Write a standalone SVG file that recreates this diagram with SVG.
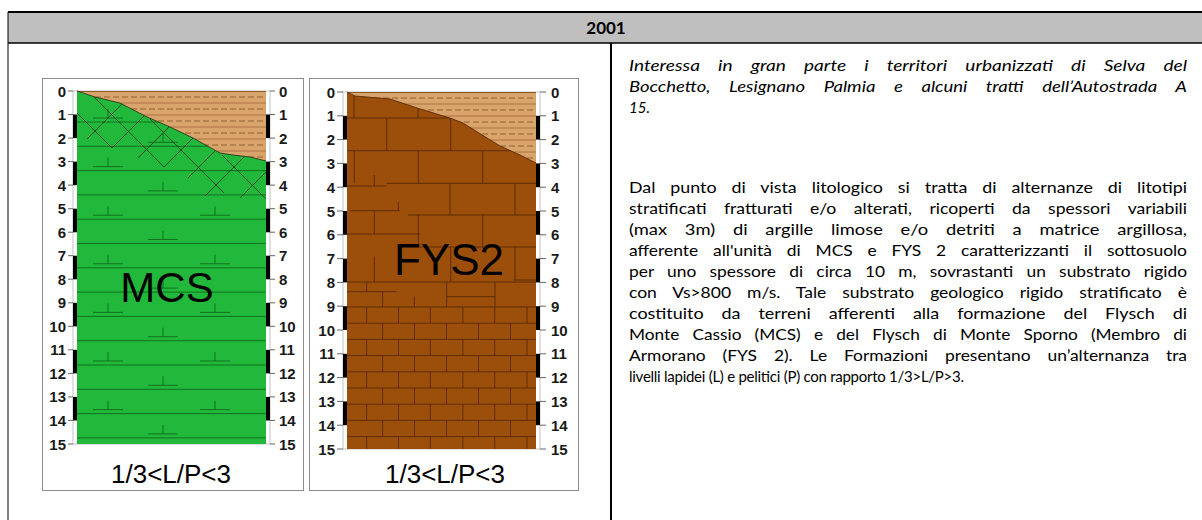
<svg xmlns="http://www.w3.org/2000/svg" xmlns:xlink="http://www.w3.org/1999/xlink" width="1202" height="520" viewBox="0 0 1202 520">
  <style>
    .frame { fill: #ffffff; stroke: #8c8c8c; stroke-width: 1; }
    .col { fill: #ffffff; stroke: #b4b4b4; stroke-width: 0.8; }
    .num { font-family: "Liberation Sans", Arial, sans-serif; font-size: 15px; font-weight: bold; fill: #1a1a1a; }
    .big { font-family: "Liberation Sans", Arial, sans-serif; fill: #000000; }
    .body { font-family: Lato, "Liberation Sans", sans-serif; font-size: 15px; fill: #000000; }
    .tick { stroke: #666666; stroke-width: 1; fill: none; }
    .bar { fill: #000000; }
    .gl { stroke: #0e6b1c; stroke-width: 0.9; fill: none; }
    .hatch { stroke: #123d14; stroke-width: 0.9; fill: none; }
    .soil { fill: #d9a46c; }
    .sl { stroke: #a8703c; stroke-width: 0.9; fill: none; }
    .sd { stroke: #8a5a2a; stroke-width: 0.9; stroke-dasharray: 6 3; fill: none; }
    .br { stroke: #5a2800; stroke-width: 0.9; fill: none; }
    .edge { fill: none; stroke-width: 0.9; }
  </style>
  <defs>
    <!-- bedding symbol: short stem on a horizontal base -->
    <path id="bed" d="M-15,0 H15 M0,0 V-9"/>
    <clipPath id="soilA">
      <polygon points="77,91 95,97 120,103 147,117 170,127 193,138 220,153 233,155 250,157 266,161 266,91"/>
    </clipPath>
    <clipPath id="soilB">
      <polygon points="347,92 355,96 390,99 417,108 450,118 463,123 487,138 500,146 520,155 536,163 536,92"/>
    </clipPath>
  </defs>

  <rect width="1202" height="520" fill="#ffffff"/>

  <!-- table header and cell borders -->
  <g id="table">
    <rect x="8" y="12" width="1194" height="31" fill="#bfbfbf"/>
    <line x1="8" y1="12" x2="1202" y2="12" stroke="#000" stroke-width="2"/>
    <line x1="8" y1="43" x2="1202" y2="43" stroke="#000" stroke-width="1.5"/>
    <line x1="8" y1="12" x2="8" y2="520" stroke="#000" stroke-width="1"/>
    <line x1="611" y1="43" x2="611" y2="520" stroke="#000" stroke-width="2"/>
    <text x="606" y="33.5" text-anchor="middle" font-family="Lato, 'Liberation Sans', sans-serif" font-size="17" font-weight="bold">2001</text>
  </g>

  <!-- MCS log -->
  <g id="log-mcs">
    <rect class="frame" x="42.5" y="78.5" width="261" height="412"/>
    <rect class="col" x="73" y="91" width="197" height="353"/>
    <rect x="77" y="91" width="189" height="353" fill="#21b83b"/>
    <path class="gl" d="M77,122 H266 M77,146.3 H266 M77,170.6 H266 M77,194.9 H266 M77,219.2 H266 M77,243.5 H266 M77,267.8 H266 M77,292.1 H266 M77,316.4 H266 M77,340.7 H266 M77,365 H266 M77,389.3 H266 M77,413.6 H266 M77,437.9 H266"/>
    <g class="gl">
      <use xlink:href="#bed" x="108" y="118"/>
      <use xlink:href="#bed" x="163" y="142.3"/>
      <use xlink:href="#bed" x="108" y="166.6"/>
      <use xlink:href="#bed" x="163" y="190.9"/>
      <use xlink:href="#bed" x="108" y="215.2"/>
      <use xlink:href="#bed" x="215" y="215.2"/>
      <use xlink:href="#bed" x="163" y="239.5"/>
      <use xlink:href="#bed" x="108" y="263.8"/>
      <use xlink:href="#bed" x="215" y="263.8"/>
      <use xlink:href="#bed" x="163" y="288.1"/>
      <use xlink:href="#bed" x="108" y="312.4"/>
      <use xlink:href="#bed" x="215" y="312.4"/>
      <use xlink:href="#bed" x="163" y="336.7"/>
      <use xlink:href="#bed" x="108" y="361"/>
      <use xlink:href="#bed" x="215" y="361"/>
      <use xlink:href="#bed" x="163" y="385.3"/>
      <use xlink:href="#bed" x="108" y="409.6"/>
      <use xlink:href="#bed" x="215" y="409.6"/>
      <use xlink:href="#bed" x="163" y="433.9"/>
    </g>
    <!-- weathered band cross-hatching -->
    <path class="hatch" d="M77,113 L112,148 M94,97 L164,167 M150,119 L224,193 M222,155 L266,199 M87,139 L122,104 M112,148 L145,115 M138,158 L170,126 M164,167 L193,138 M188,178 L215,151 M205,196 L246,155 M240,198 L266,172"/>
    <!-- cover soil -->
    <polygon class="soil" points="77,91 95,97 120,103 147,117 170,127 193,138 220,153 233,155 250,157 266,161 266,91"/>
    <g clip-path="url(#soilA)">
      <path class="sd" d="M77,97 H266 M77,109 H266 M77,121 H266 M77,133 H266 M77,145 H266 M77,157 H266"/>
      <path class="sl" d="M77,103 H266 M77,115 H266 M77,127 H266 M77,139 H266 M77,151 H266"/>
    </g>
    <line x1="77" y1="91.5" x2="266" y2="91.5" stroke="#8a5a2a" stroke-width="1.2"/>
    <polyline class="edge" stroke="#2c3a14" points="77,91 95,97 120,103 147,117 170,127 193,138 220,153 233,155 250,157 266,161"/>
    <!-- depth bars -->
    <g class="bar">
      <rect x="73" y="114.5" width="4" height="23.6"/>
      <rect x="73" y="161.6" width="4" height="23.6"/>
      <rect x="73" y="208.7" width="4" height="23.6"/>
      <rect x="73" y="255.7" width="4" height="23.6"/>
      <rect x="73" y="302.8" width="4" height="23.6"/>
      <rect x="73" y="349.8" width="4" height="23.6"/>
      <rect x="73" y="396.9" width="4" height="23.6"/>
      <rect x="266" y="114.5" width="4" height="23.6"/>
      <rect x="266" y="161.6" width="4" height="23.6"/>
      <rect x="266" y="208.7" width="4" height="23.6"/>
      <rect x="266" y="255.7" width="4" height="23.6"/>
      <rect x="266" y="302.8" width="4" height="23.6"/>
      <rect x="266" y="349.8" width="4" height="23.6"/>
      <rect x="266" y="396.9" width="4" height="23.6"/>
    </g>
    <path class="tick" d="M68,91 h5 M68,114.5 h5 M68,138.1 h5 M68,161.6 h5 M68,185.1 h5 M68,208.7 h5 M68,232.2 h5 M68,255.7 h5 M68,279.2 h5 M68,302.8 h5 M68,326.3 h5 M68,349.8 h5 M68,373.4 h5 M68,396.9 h5 M68,420.4 h5 M68,444 h5 M270,91 h5 M270,114.5 h5 M270,138.1 h5 M270,161.6 h5 M270,185.1 h5 M270,208.7 h5 M270,232.2 h5 M270,255.7 h5 M270,279.2 h5 M270,302.8 h5 M270,326.3 h5 M270,349.8 h5 M270,373.4 h5 M270,396.9 h5 M270,420.4 h5 M270,444 h5"/>
    <g class="num" text-anchor="end">
      <text x="66" y="96.5">0</text><text x="66" y="120">1</text><text x="66" y="143.6">2</text><text x="66" y="167.1">3</text>
      <text x="66" y="190.6">4</text><text x="66" y="214.2">5</text><text x="66" y="237.7">6</text><text x="66" y="261.2">7</text>
      <text x="66" y="284.7">8</text><text x="66" y="308.3">9</text><text x="66" y="331.8">10</text><text x="66" y="355.3">11</text>
      <text x="66" y="378.9">12</text><text x="66" y="402.4">13</text><text x="66" y="425.9">14</text><text x="66" y="449.5">15</text>
    </g>
    <g class="num">
      <text x="279" y="96.5">0</text><text x="279" y="120">1</text><text x="279" y="143.6">2</text><text x="279" y="167.1">3</text>
      <text x="279" y="190.6">4</text><text x="279" y="214.2">5</text><text x="279" y="237.7">6</text><text x="279" y="261.2">7</text>
      <text x="279" y="284.7">8</text><text x="279" y="308.3">9</text><text x="279" y="331.8">10</text><text x="279" y="355.3">11</text>
      <text x="279" y="378.9">12</text><text x="279" y="402.4">13</text><text x="279" y="425.9">14</text><text x="279" y="449.5">15</text>
    </g>
    <text class="big" x="167" y="302" font-size="42" text-anchor="middle">MCS</text>
    <text class="big" x="171" y="483" font-size="26" text-anchor="middle">1/3&lt;L/P&lt;3</text>
  </g>

  <!-- FYS2 log -->
  <g id="log-fys2">
    <rect class="frame" x="309.5" y="78.5" width="269" height="412"/>
    <rect class="col" x="343" y="92" width="197" height="357"/>
    <rect x="347" y="92" width="189" height="357" fill="#9c4f0b"/>
    <!-- irregular upper blocks -->
    <path class="br" d="M347,118 H536 M347,150.7 H536 M386.7,183.3 H536 M347,186 H386.7 M408,215 H536 M350,210.7 H400 M347,234 H420 M420,247 H536 M347,282 H536
      M354,92 V118 M418,92 V118
      M386.7,118 V150.7 M450.7,118 V150.7
      M354.3,150.7 V183.3 M418.3,150.7 V183.3 M482.7,150.7 V183.3 M374.3,175 V186
      M450,183.3 V215 M515,183.3 V215 M398.3,201.7 V210.7
      M374.3,210.7 V234 M418.3,215 V247 M482.7,215 V247
      M374.3,256.7 V282 M450.7,247 V282 M515,247 V280 M513,280 H536"/>
    <!-- transition to thin beds -->
    <path class="br" d="M347,291.7 H396.7 M446.7,296.7 H495 M366.7,282 V291.7 M382.7,291.7 V307 M414.3,296.7 V307 M446.7,282 V307 M495,282 V307"/>
    <!-- regular thin beds -->
    <path class="br" d="M347,307 H536 M347,323.2 H536 M347,339.4 H536 M347,355.6 H536 M347,371.8 H536 M347,388 H536 M347,404.2 H536 M347,420.4 H536 M347,436.6 H536
      M366.7,307 V323.2 M398.5,307 V323.2 M430.3,307 V323.2 M462.9,307 V323.2 M494.8,307 V323.2 M527,307 V323.2
      M382.7,323.2 V339.4 M414.5,323.2 V339.4 M446.5,323.2 V339.4 M478.5,323.2 V339.4 M510.5,323.2 V339.4
      M366.7,339.4 V355.6 M398.5,339.4 V355.6 M430.3,339.4 V355.6 M462.9,339.4 V355.6 M494.8,339.4 V355.6 M527,339.4 V355.6
      M382.7,355.6 V371.8 M414.5,355.6 V371.8 M446.5,355.6 V371.8 M478.5,355.6 V371.8 M510.5,355.6 V371.8
      M366.7,371.8 V388 M398.5,371.8 V388 M430.3,371.8 V388 M462.9,371.8 V388 M494.8,371.8 V388 M527,371.8 V388
      M382.7,388 V404.2 M414.5,388 V404.2 M446.5,388 V404.2 M478.5,388 V404.2 M510.5,388 V404.2
      M366.7,404.2 V420.4 M398.5,404.2 V420.4 M430.3,404.2 V420.4 M462.9,404.2 V420.4 M494.8,404.2 V420.4 M527,404.2 V420.4
      M382.7,420.4 V436.6 M414.5,420.4 V436.6 M446.5,420.4 V436.6 M478.5,420.4 V436.6 M510.5,420.4 V436.6
      M366.7,436.6 V449 M398.5,436.6 V449 M430.3,436.6 V449 M462.9,436.6 V449 M494.8,436.6 V449 M527,436.6 V449"/>
    <!-- cover soil -->
    <polygon class="soil" points="347,92 355,96 390,99 417,108 450,118 463,123 487,138 500,146 520,155 536,163 536,92"/>
    <g clip-path="url(#soilB)">
      <path class="sd" d="M347,98 H536 M347,110 H536 M347,122 H536 M347,134 H536 M347,146 H536 M347,158 H536"/>
      <path class="sl" d="M347,104 H536 M347,116 H536 M347,128 H536 M347,140 H536 M347,152 H536"/>
    </g>
    <line x1="347" y1="92.5" x2="536" y2="92.5" stroke="#8a5a2a" stroke-width="1.2"/>
    <polyline class="edge" stroke="#5a2800" points="347,92 355,96 390,99 417,108 450,118 463,123 487,138 500,146 520,155 536,163"/>
    <g class="bar">
      <rect x="343" y="115.8" width="4" height="23.8"/>
      <rect x="343" y="163.4" width="4" height="23.8"/>
      <rect x="343" y="211" width="4" height="23.8"/>
      <rect x="343" y="258.6" width="4" height="23.8"/>
      <rect x="343" y="306.2" width="4" height="23.8"/>
      <rect x="343" y="353.8" width="4" height="23.8"/>
      <rect x="343" y="401.4" width="4" height="23.8"/>
      <rect x="536" y="115.8" width="4" height="23.8"/>
      <rect x="536" y="163.4" width="4" height="23.8"/>
      <rect x="536" y="211" width="4" height="23.8"/>
      <rect x="536" y="258.6" width="4" height="23.8"/>
      <rect x="536" y="306.2" width="4" height="23.8"/>
      <rect x="536" y="353.8" width="4" height="23.8"/>
      <rect x="536" y="401.4" width="4" height="23.8"/>
    </g>
    <path class="tick" d="M337,92 h6 M337,115.8 h6 M337,139.6 h6 M337,163.4 h6 M337,187.2 h6 M337,211 h6 M337,234.8 h6 M337,258.6 h6 M337,282.4 h6 M337,306.2 h6 M337,330 h6 M337,353.8 h6 M337,377.6 h6 M337,401.4 h6 M337,425.2 h6 M337,449 h6 M540,92 h6 M540,115.8 h6 M540,139.6 h6 M540,163.4 h6 M540,187.2 h6 M540,211 h6 M540,234.8 h6 M540,258.6 h6 M540,282.4 h6 M540,306.2 h6 M540,330 h6 M540,353.8 h6 M540,377.6 h6 M540,401.4 h6 M540,425.2 h6 M540,449 h6"/>
    <g class="num" text-anchor="end">
      <text x="335" y="97.5">0</text><text x="335" y="121.3">1</text><text x="335" y="145.1">2</text><text x="335" y="168.9">3</text>
      <text x="335" y="192.7">4</text><text x="335" y="216.5">5</text><text x="335" y="240.3">6</text><text x="335" y="264.1">7</text>
      <text x="335" y="287.9">8</text><text x="335" y="311.7">9</text><text x="335" y="335.5">10</text><text x="335" y="359.3">11</text>
      <text x="335" y="383.1">12</text><text x="335" y="406.9">13</text><text x="335" y="430.7">14</text><text x="335" y="454.5">15</text>
    </g>
    <g class="num">
      <text x="551" y="97.5">0</text><text x="551" y="121.3">1</text><text x="551" y="145.1">2</text><text x="551" y="168.9">3</text>
      <text x="551" y="192.7">4</text><text x="551" y="216.5">5</text><text x="551" y="240.3">6</text><text x="551" y="264.1">7</text>
      <text x="551" y="287.9">8</text><text x="551" y="311.7">9</text><text x="551" y="335.5">10</text><text x="551" y="359.3">11</text>
      <text x="551" y="383.1">12</text><text x="551" y="406.9">13</text><text x="551" y="430.7">14</text><text x="551" y="454.5">15</text>
    </g>
    <text class="big" x="449" y="275" font-size="44" text-anchor="middle">FYS2</text>
    <text class="big" x="445" y="483" font-size="26" text-anchor="middle">1/3&lt;L/P&lt;3</text>
  </g>

  <!-- description text; justified lines are fitted to the column width -->
  <g id="description" class="body">
    <g font-style="italic">
      <text x="629" y="71" word-spacing="10.8" textLength="558" lengthAdjust="spacingAndGlyphs">Interessa in gran parte i territori urbanizzati di Selva del</text>
      <text x="629" y="92" word-spacing="11.6" textLength="558" lengthAdjust="spacingAndGlyphs">Bocchetto, Lesignano Palmia e alcuni tratti dell’Autostrada A</text>
      <text x="629" y="113">15.</text>
    </g>
    <text x="629" y="193" word-spacing="8.75" textLength="558" lengthAdjust="spacingAndGlyphs">Dal punto di vista litologico si tratta di alternanze di litotipi</text>
    <text x="629" y="214" word-spacing="11.1" textLength="558" lengthAdjust="spacingAndGlyphs">stratificati fratturati e/o alterati, ricoperti da spessori variabili</text>
    <text x="629" y="235" word-spacing="10.7" textLength="558" lengthAdjust="spacingAndGlyphs">(max 3m) di argille limose e/o detriti a matrice argillosa,</text>
    <text x="629" y="256" word-spacing="8.9" textLength="558" lengthAdjust="spacingAndGlyphs">afferente all'unità di MCS e FYS 2 caratterizzanti il sottosuolo</text>
    <text x="629" y="277" word-spacing="7.6" textLength="558" lengthAdjust="spacingAndGlyphs">per uno spessore di circa 10 m, sovrastanti un substrato rigido</text>
    <text x="629" y="298" word-spacing="9.9" textLength="558" lengthAdjust="spacingAndGlyphs">con Vs&gt;800 m/s. Tale substrato geologico rigido stratificato è</text>
    <text x="629" y="319" word-spacing="11.2" textLength="558" lengthAdjust="spacingAndGlyphs">costituito da terreni afferenti alla formazione del Flysch di</text>
    <text x="629" y="340" word-spacing="7.6" textLength="558" lengthAdjust="spacingAndGlyphs">Monte Cassio (MCS) e del Flysch di Monte Sporno (Membro di</text>
    <text x="629" y="361" word-spacing="10.7" textLength="558" lengthAdjust="spacingAndGlyphs">Armorano (FYS 2). Le Formazioni presentano un’alternanza tra</text>
    <text x="629" y="382" textLength="335" lengthAdjust="spacing">livelli lapidei (L) e pelitici (P) con rapporto 1/3&gt;L/P&gt;3.</text>
  </g>
</svg>
